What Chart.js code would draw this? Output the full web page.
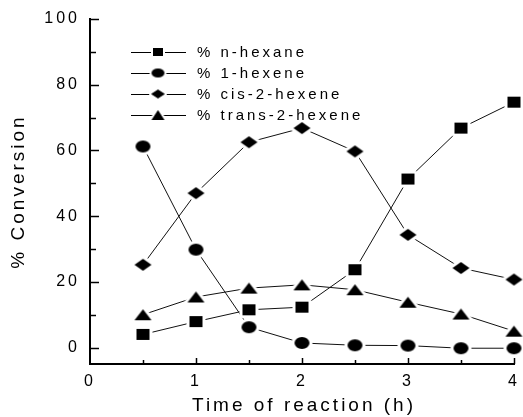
<!DOCTYPE html>
<html>
<head>
<meta charset="utf-8">
<script src="https://cdn.jsdelivr.net/npm/chart.js@4"></script>
<style>
  html, body { margin: 0; padding: 0; background: #fff; }
  #wrap { width: 523px; height: 417px; }
</style>
</head>
<body>
<div id="wrap"><canvas id="convChart"></canvas></div>
<script>
// Time of reaction (h)
const times = [0.5, 1, 1.5, 2, 2.5, 3, 3.5, 4];

// % conversion
const nHexane = [4.0, 7.9, 11.5, 12.3, 23.7, 51.3, 66.8, 74.7];
const oneHexene = [61.2, 29.8, 6.2, 1.4, 0.7, 0.6, -0.2, -0.2];
const cis2Hexene = [25.2, 47.0, 62.5, 66.8, 59.7, 34.3, 24.2, 20.7];
const trans2Hexene = [10.0, 15.4, 18.1, 19.1, 17.6, 13.8, 10.2, 5.0];

const seriesNames = ['% n-hexane', '% 1-hexene', '% cis-2-hexene', '% trans-2-hexene'];
const yTickValues = [0, 20, 40, 60, 80, 100];
const xTickValues = [0, 1, 2, 3, 4];

const FONT = '"Liberation Sans", Arial, sans-serif';
const SPACING = '3px';

// build a marker image with a white halo so lines stop short of it
function makeMarker(shape, w, h, halo) {
    const c = document.createElement('canvas');
    c.width = Math.ceil(w + halo * 2 + 2);
    c.height = Math.ceil(h + halo * 2 + 2);
    const g = c.getContext('2d');
    const cx = c.width / 2, cy = c.height / 2;
    g.beginPath();
    if (shape === 'square') {
        g.rect(cx - w / 2, cy - h / 2, w, h);
    } else if (shape === 'circle') {
        g.ellipse(cx, cy, w / 2, h / 2, 0, 0, Math.PI * 2);
    } else if (shape === 'diamond') {
        g.moveTo(cx, cy - h / 2);
        g.lineTo(cx + w / 2, cy);
        g.lineTo(cx, cy + h / 2);
        g.lineTo(cx - w / 2, cy);
        g.closePath();
    } else {
        g.moveTo(cx, cy - h / 2);
        g.lineTo(cx + w / 2, cy + h / 2);
        g.lineTo(cx - w / 2, cy + h / 2);
        g.closePath();
    }
    if (halo > 0) {
        g.strokeStyle = '#fff';
        g.lineWidth = halo * 2;
        g.lineJoin = 'round';
        g.stroke();
    }
    g.fillStyle = '#000';
    g.fill();
    return c;
}

const plotMarkers = [
    makeMarker('square', 13, 11, 3),
    makeMarker('circle', 15, 12, 3),
    makeMarker('diamond', 17, 12, 3),
    makeMarker('triangle', 17, 11, 3)
];
const legendMarkers = [
    makeMarker('square', 10, 8, 2),
    makeMarker('circle', 13, 9, 2),
    makeMarker('diamond', 14, 9, 2),
    makeMarker('triangle', 13, 10, 2)
];

function toPoints(values) {
    return values.map((v, i) => ({ x: times[i], y: v }));
}

// letter spacing, inward ticks, axis titles and legend
const decorPlugin = {
    id: 'decor',
    beforeUpdate(chart) { chart.ctx.letterSpacing = SPACING; },
    beforeDraw(chart) {
        const ctx = chart.ctx;
        ctx.letterSpacing = SPACING;
        ctx.save();
        ctx.fillStyle = '#fff';
        ctx.fillRect(0, 0, chart.width, chart.height);
        ctx.restore();
    },
    afterDraw(chart) {
        const ctx = chart.ctx;
        const xs = chart.scales.x, ys = chart.scales.y;
        const area = chart.chartArea;
        ctx.save();
        ctx.letterSpacing = SPACING;
        ctx.strokeStyle = '#000';
        ctx.lineWidth = 1.5;

        // y ticks, major every 20, minor every 10
        for (let v = 0; v <= 100; v += 10) {
            const py = Math.round(ys.getPixelForValue(v)) + 0.5;
            const len = v % 20 === 0 ? 9 : 6;
            ctx.beginPath();
            ctx.moveTo(area.left, py);
            ctx.lineTo(area.left + len, py);
            ctx.stroke();
        }
        // x ticks, major every 1, minor every 0.5
        for (let v = 0.5; v <= 4; v += 0.5) {
            const px = Math.round(xs.getPixelForValue(v)) + 0.5;
            const len = v % 1 === 0 ? 6 : 4;
            ctx.beginPath();
            ctx.moveTo(px, area.bottom);
            ctx.lineTo(px, area.bottom - len);
            ctx.stroke();
        }

        // axis titles
        ctx.fillStyle = '#000';
        ctx.font = '19px ' + FONT;
        ctx.textAlign = 'center';
        ctx.textBaseline = 'middle';
        ctx.fillText('Time of reaction (h)', (area.left + area.right) / 2 + 2, 406);
        ctx.save();
        ctx.translate(19, (area.top + area.bottom) / 2);
        ctx.rotate(-Math.PI / 2);
        ctx.fillText('% Conversion', 0, 0);
        ctx.restore();

        // legend
        const rows = [52, 73, 94, 115];
        ctx.font = '15px ' + FONT;
        ctx.textAlign = 'left';
        ctx.lineWidth = 1;
        chart.data.datasets.forEach((ds, i) => {
            const y = rows[i];
            ctx.beginPath();
            ctx.moveTo(131, y + 0.5);
            ctx.lineTo(186, y + 0.5);
            ctx.stroke();
            const m = legendMarkers[i];
            ctx.drawImage(m, 158 - m.width / 2, y - m.height / 2);
            ctx.fillText(ds.label, 197, y + 1);
        });
        ctx.restore();
    }
};

const ctx = document.getElementById('convChart').getContext('2d');

const convChart = new Chart(ctx, {
    type: 'line',
    data: {
        datasets: [nHexane, oneHexene, cis2Hexene, trans2Hexene].map((vals, i) => ({
            label: seriesNames[i],
            data: toPoints(vals),
            borderColor: '#111',
            borderWidth: 1,
            pointStyle: plotMarkers[i],
            pointRadius: 8,
            tension: 0,
            fill: false,
            clip: false
        }))
    },
    options: {
        responsive: true,
        maintainAspectRatio: false,
        animation: false,
        layout: { padding: { top: 19, right: 2, left: 0, bottom: 0 } },
        plugins: {
            legend: { display: false },
            tooltip: { enabled: false }
        },
        scales: {
            x: {
                type: 'linear',
                min: 0,
                max: 4,
                afterBuildTicks(scale) {
                    scale.ticks = xTickValues.map(v => ({ value: v }));
                },
                afterFit(scale) {
                    scale.height = 53;
                    scale.paddingLeft = 0;
                    scale.paddingRight = 0;
                },
                grid: { drawOnChartArea: false, drawTicks: false },
                border: { display: true, color: '#000', width: 2 },
                ticks: {
                    color: '#000',
                    padding: 8,
                    maxRotation: 0,
                    font: { family: FONT, size: 16 }
                }
            },
            y: {
                type: 'linear',
                min: -5,
                max: 100,
                afterBuildTicks(scale) {
                    scale.ticks = yTickValues.map(v => ({ value: v }));
                },
                afterFit(scale) {
                    scale.width = 90;
                    scale.paddingTop = 0;
                    scale.paddingBottom = 0;
                },
                grid: { drawOnChartArea: false, drawTicks: false },
                border: { display: true, color: '#000', width: 2 },
                ticks: {
                    color: '#000',
                    padding: 10,
                    font: { family: FONT, size: 16 }
                }
            }
        }
    },
    plugins: [decorPlugin]
});
</script>
</body>
</html>
